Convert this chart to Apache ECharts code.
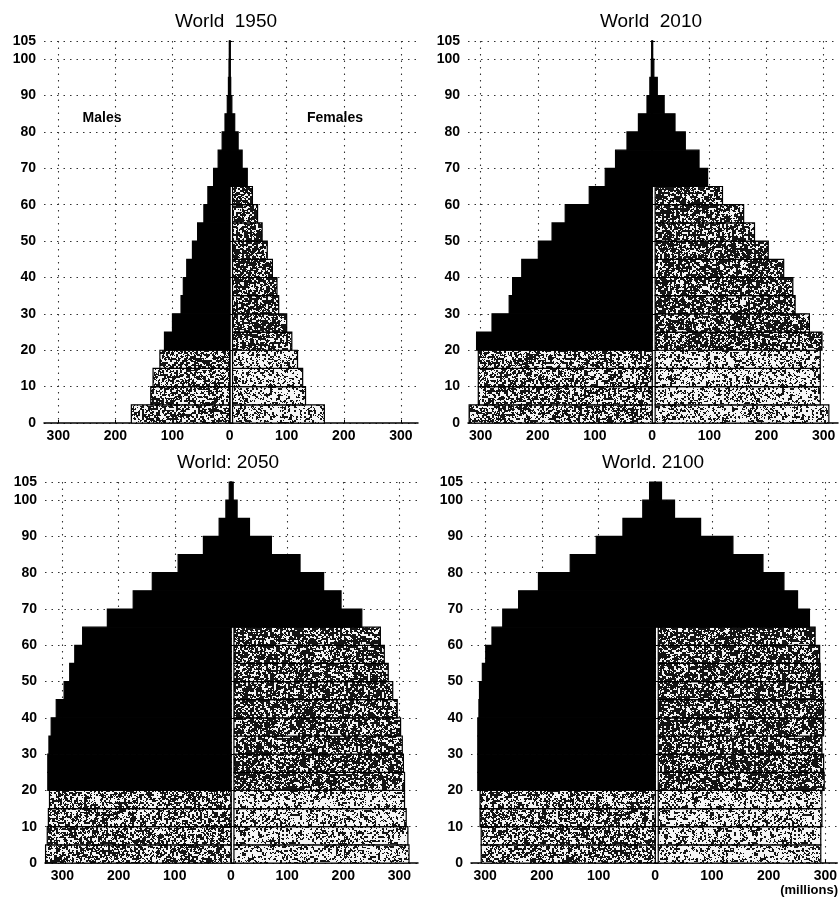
<!DOCTYPE html>
<html><head><meta charset="utf-8">
<script src="https://cdn.jsdelivr.net/npm/echarts@6/dist/echarts.min.js"></script>
<style>html,body{margin:0;padding:0;background:#fff}#c{width:840px;height:902px}</style>
</head><body><div id="c"></div>
<script>
// ---- data (millions) ----
const ageStarts = [0,5,10,15,20,25,30,35,40,45,50,55,60,65,70,75,80,85,90,95,100];
const xTickValues = [-300,-200,-100,0,100,200,300];
const titles = ['World  1950','World  2010','World: 2050','World. 2100'];

const male1950   = [172,138,134,122,114,100,85,81,75,65,56,45,38,28,20,13,8,4,2,1,0.5];
const female1950 = [166,133,128,119,109,100,86,83,75,66,57,49,40,31,22,15,9,4,2,1,0.5];
const male2010   = [320,304,304,304,307,280,250,244,228,199,175,152,110,82,64,44,24,9,4,1.5,0.5];
const female2010 = [309,294,294,294,297,275,250,246,230,203,179,160,123,97,82,58,40,21,9,3,1];
const male2050   = [330,327,325,323,326,326,324,320,311,297,287,278,264,220,174,140,94,49,21,9,3];
const female2050 = [317,315,312,309,309,307,305,302,296,288,280,273,266,233,196,165,123,72,33,11,4];
const male2100   = [307,307,309,309,313,313,313,313,311,310,305,299,288,269,241,206,150,104,57,22,10];
const female2100 = [292,292,294,294,298,297,294,297,297,295,291,290,282,272,251,227,190,137,80,34,11];

const males = [male1950, male2010, male2050, male2100];
const females = [female1950, female2010, female2050, female2100];

// ---- layout ----
const grids = [
  {left:44,  top:41,  width:374, height:382, min:-325, max:330},
  {left:468, top:41,  width:370, height:382, min:-322, max:325},
  {left:45,  top:482, width:373, height:381, min:-331, max:333},
  {left:471, top:482, width:369, height:381, min:-325, max:321}
];
const titlePos = [[226,22],[651,22],[228,463],[653,463]];
const FONT = '"Liberation Sans", Arial, Helvetica, sans-serif';

// ---- scan-like textures ----
function makeNoise(density, seed) {
  const n = 256, h = 128;
  let s = seed;
  const rnd = () => { s = (s * 1103515245 + 12345) & 0x7fffffff; return s / 0x7fffffff; };
  const small = document.createElement('canvas'); small.width = h; small.height = h;
  const sctx = small.getContext('2d'); const simg = sctx.createImageData(h, h);
  for (let i = 0; i < h * h; i++) {
    const v = rnd() < density ? 20 : 245;
    simg.data[i*4] = simg.data[i*4+1] = simg.data[i*4+2] = v; simg.data[i*4+3] = 255;
  }
  sctx.putImageData(simg, 0, 0);
  const c = document.createElement('canvas'); c.width = n; c.height = n;
  const ctx = c.getContext('2d');
  ctx.imageSmoothingEnabled = false;
  ctx.drawImage(small, 0, 0, n, n);
  const img = ctx.getImageData(0, 0, n, n);
  for (let i = 0; i < n * n; i++) {
    if (rnd() < 0.22) {
      const v = rnd() < density ? 20 : 245;
      img.data[i*4] = img.data[i*4+1] = img.data[i*4+2] = v;
    }
  }
  ctx.putImageData(img, 0, 0);
  return {image: c, repeat: 'repeat'};
}
const texMaleYoung = makeNoise(0.52, 12345);
const texFemYoung  = makeNoise(0.33, 777);
const texFemMid    = makeNoise(0.66, 4242);

function fillFor(isMale, age) {
  if (isMale) return age < 20 ? texMaleYoung : '#000';
  if (age < 20) return texFemYoung;
  if (age < 65) return texFemMid;
  return '#000';
}

function makeRender(isMale) {
  return function (params, api) {
    const age = api.value(0), v = api.value(1);
    const p0 = api.coord([0, age]);
    const p1 = api.coord([v, age + 5]);
    let x0 = p0[0], x1 = p1[0];
    if (!isMale && age < 65) x0 += 3;
    return {
      type: 'rect',
      shape: {x: Math.min(x0, x1), y: p1[1], width: Math.max(Math.abs(x1 - x0), 0.5), height: p0[1] - p1[1]},
      style: {fill: fillFor(isMale, age), stroke: '#000', lineWidth: 1.2}
    };
  };
}

const gridLine = {show: true, lineStyle: {color: '#333', width: 1.1, type: [1.5, 5]}};

const option = {
  animation: false,
  backgroundColor: '#fff',
  grid: grids.map(g => ({left: g.left, top: g.top, width: g.width, height: g.height, containLabel: false})),
  xAxis: grids.map((g, i) => ({
    type: 'value', gridIndex: i, min: g.min, max: g.max,
    axisLine: {show: true, onZero: false, lineStyle: {color: '#000', width: 1.5}},
    axisTick: {show: true, inside: true, length: 3, customValues: xTickValues, lineStyle: {color: '#000'}},
    axisLabel: {customValues: xTickValues, formatter: v => String(Math.abs(v)), color: '#000',
      fontFamily: FONT, fontWeight: 'bold', fontSize: 14, margin: 6},
    splitLine: gridLine
  })),
  yAxis: grids.map((g, i) => ({
    type: 'value', gridIndex: i, min: 0, max: 105, interval: 10,
    axisLine: {show: true, lineStyle: {color: '#000', width: 1.5}},
    axisTick: {show: true, inside: true, length: 3, lineStyle: {color: '#000'}},
    axisLabel: {color: '#000', fontFamily: FONT, fontWeight: 'bold', fontSize: 14, margin: 8},
    splitLine: gridLine
  })),
  series: [],
  graphic: []
};

for (let i = 0; i < 4; i++) {
  option.series.push({
    type: 'custom', xAxisIndex: i, yAxisIndex: i, renderItem: makeRender(true),
    encode: {x: 1, y: 0}, clip: false, silent: true,
    data: ageStarts.map((a, k) => [a, -males[i][k]])
  });
  option.series.push({
    type: 'custom', xAxisIndex: i, yAxisIndex: i, renderItem: makeRender(false),
    encode: {x: 1, y: 0}, clip: false, silent: true,
    data: ageStarts.map((a, k) => [a, females[i][k]])
  });
  option.graphic.push({
    type: 'text', x: titlePos[i][0], y: titlePos[i][1],
    style: {text: titles[i], fill: '#000', font: '19px ' + FONT, textAlign: 'center', textVerticalAlign: 'middle'}
  });
}
option.graphic.push(
  {type: 'text', x: 102, y: 118, style: {text: 'Males', fill: '#000', font: 'bold 14px ' + FONT, textAlign: 'center', textVerticalAlign: 'middle'}},
  {type: 'text', x: 335, y: 118, style: {text: 'Females', fill: '#000', font: 'bold 14px ' + FONT, textAlign: 'center', textVerticalAlign: 'middle'}},
  {type: 'text', x: 838, y: 890, style: {text: '(millions)', fill: '#000', font: 'bold 13px ' + FONT, textAlign: 'right', textVerticalAlign: 'middle'}}
);

const chart = echarts.init(document.getElementById('c'), null, {renderer: 'canvas'});
chart.setOption(option);
</script>
</body></html>
